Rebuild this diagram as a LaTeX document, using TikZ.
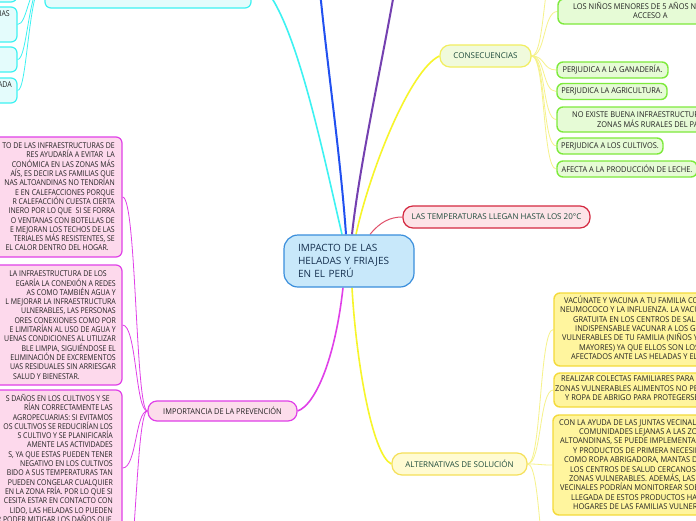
\documentclass[tikz,border=0pt]{standalone}
\usepackage{fontspec}
\setmainfont{Open Sans}
\newfontfamily\cond{Open Sans}[FakeStretch=0.87]
\newfontfamily\condw{Open Sans}[FakeStretch=0.93]
\usetikzlibrary{calc}
\pgfdeclarelayer{bg}
\pgfsetlayers{bg,main}
\definecolor{cenfill}{HTML}{C8E8FA}
\definecolor{cenline}{HTML}{3A8EDC}
\definecolor{centext}{HTML}{15304F}
\definecolor{cyanl}{HTML}{3DF2F2}
\definecolor{cyanfill}{HTML}{E4FCFC}
\definecolor{bluel}{HTML}{2150F0}
\definecolor{purpl}{HTML}{7440B0}
\definecolor{yell}{HTML}{F7F52A}
\definecolor{yellsub}{HTML}{F6F28A}
\definecolor{redl}{HTML}{D42840}
\definecolor{redfill}{HTML}{FDE3E7}
\definecolor{redcon}{HTML}{E0506A}
\definecolor{magl}{HTML}{E040E8}
\definecolor{pinkfill}{HTML}{FDD9EC}
\definecolor{impfill}{HTML}{FCDDEB}
\definecolor{consfill}{HTML}{F0FADC}
\definecolor{consline}{HTML}{F2EE60}
\definecolor{greenl}{HTML}{7EEA3C}
\definecolor{greenfill}{HTML}{E6FBD6}
\definecolor{altfill}{HTML}{FFFBD2}
\definecolor{altline}{HTML}{F5E05A}
\definecolor{ybfill}{HTML}{FFF59E}
\definecolor{ybline}{HTML}{F4DA3A}
\definecolor{headtext}{HTML}{1E4B3C}
\definecolor{bodytext}{HTML}{222222}
\begin{document}
\begin{tikzpicture}[x=1pt,y=-1pt,
  every node/.style={inner sep=0pt},
  basebox/.style={draw, line width=1.2pt, rounded corners=6pt},
  cbox/.style={basebox, draw=cyanl, fill=cyanfill},
  pbox/.style={basebox, draw=magl, fill=pinkfill},
  gbox/.style={basebox, draw=greenl, fill=greenfill, line width=1.4pt, font=\condw\fontsize{8}{9.4}\selectfont, text=bodytext},
  ybox/.style={basebox, draw=ybline, fill=ybfill, line width=1.4pt},
  head/.style={draw, line width=1.2pt, rounded corners=10pt, font=\fontsize{8}{10}\selectfont, text=headtext},
  btext/.style={font=\cond\fontsize{8}{9.3}\selectfont, text=bodytext},
  wtext/.style={font=\condw\fontsize{8}{9.4}\selectfont, text=bodytext},
  mainbr/.style={line width=1.6pt},
  subbr/.style={line width=0.8pt},
]
\useasboundingbox (0,0) rectangle (696,520);
\clip (0,0) rectangle (696,520);
\begin{pgfonlayer}{bg}
\fill[white] (0,0) rectangle (696,520);
\end{pgfonlayer}

% central
\node[draw=cenline, fill=cenfill, line width=1.2pt, rounded corners=14pt,
  minimum width=130pt, minimum height=52pt, text width=102pt, inner xsep=14pt,
  align=left, font=\fontsize{10}{12.8}\selectfont, text=centext] (c) at (349,261)
  {IMPACTO DE LAS\\HELADAS Y FRIAJES\\EN EL PERÚ};

% cyan branch
\node[cbox, minimum width=206pt, minimum height=58pt] (cbig) at (148,-21) {};
\node[cbox, minimum width=97pt, minimum height=32pt] (ca) at (-31.5,-14) {};
\node[cbox, minimum width=97pt, minimum height=35pt] (cb) at (-31.5,24.5) {};
\node[cbox, minimum width=97pt, minimum height=25pt] (cc) at (-31.5,59.5) {};
\node[cbox, minimum width=97pt, minimum height=25pt] (cd) at (-31.5,90.5) {};
\node[btext, anchor=east] (cbt) at (10,14) {IAS};
\node[btext, anchor=east] (cdt) at (12,85) {ADA};

\coordinate (bl) at (318,-30);
\coordinate (pu) at (398,-30);

% headings
\node[head, draw=redl, fill=redfill, minimum width=187pt, minimum height=22pt] (red) at (496.5,217) {LAS TEMPERATURAS LLEGAN HASTA LOS 20°C};
\node[head, draw=consline, fill=consfill, minimum width=91pt, minimum height=22pt] (cons) at (485.5,56) {CONSECUENCIAS};
\node[head, draw=altline, fill=altfill, minimum width=135pt, minimum height=22pt] (alt) at (459.5,464) {ALTERNATIVAS DE SOLUCIÓN};
\node[head, draw=magl, fill=impfill, rounded corners=9pt, minimum width=149pt, minimum height=20pt, font=\condw\fontsize{8}{10}\selectfont, text=bodytext] (imp) at (222.5,411) {IMPORTANCIA DE LA PREVENCIÓN};

% consecuencias children
\coordinate (g0) at (557,-40);
\node[gbox, minimum width=202pt, minimum height=25pt] (g1) at (659,11.5) {};
\node[wtext, anchor=west, align=left] (g1t) at (573,10.5) {LOS NIÑOS MENORES DE 5 AÑOS NO\\\hspace*{60pt}ACCESO A};
\node[gbox, minimum width=111pt, minimum height=16pt] (g2) at (612.5,70) {PERJUDICA A LA GANADERÍA.};
\node[gbox, minimum width=110pt, minimum height=16pt] (g3) at (612,91.5) {PERJUDICA LA AGRICULTURA.};
\node[gbox, minimum width=203pt, minimum height=25pt] (g4) at (658.5,119.5) {};
\node[wtext, anchor=west, align=left] (g4t) at (572,119.5) {NO EXISTE BUENA INFRAESTRUCTURA\\\hspace*{25pt}ZONAS MÁS RURALES DEL PAÍS};
\node[gbox, minimum width=106pt, minimum height=16pt] (g5) at (610,146) {PERJUDICA A LOS CULTIVOS.};
\node[gbox, minimum width=140pt, minimum height=16pt] (g6) at (627,169) {AFECTA A LA PRODUCCIÓN DE LECHE.};

% alternativas children
\node[ybox, minimum width=226pt, minimum height=73pt] (y1) at (667,329.5) {};
\node[wtext, anchor=west, align=left] (y1t) at (560,328.5) {\hspace*{4pt}VACÚNATE Y VACUNA A TU FAMILIA CONTRA EL\\
NEUMOCOCO Y LA INFLUENZA. LA VACUNA ES\\
\hspace*{13pt}GRATUITA EN LOS CENTROS DE SALUD. ES\\
\hspace*{15pt}INDISPENSABLE VACUNAR A LOS GRUPOS MÁS\\
\hspace*{2pt}VULNERABLES DE TU FAMILIA (NIÑOS Y ADULTOS\\
\hspace*{19pt}MAYORES) YA QUE ELLOS SON LOS MÁS\\
\hspace*{11pt}AFECTADOS ANTE LAS HELADAS Y EL FRIAJE.};
\node[ybox, minimum width=226pt, minimum height=34pt] (y2) at (667,390) {};
\node[wtext, anchor=west, align=left] (y2t) at (555,388.5) {\hspace*{6pt}REALIZAR COLECTAS FAMILIARES PARA LLEVAR A\\
ZONAS VULNERABLES ALIMENTOS NO PERECIBLES\\
\hspace*{10pt}Y ROPA DE ABRIGO PARA PROTEGERSE DEL FRÍO.};
\node[ybox, minimum width=227pt, minimum height=100pt] (y3) at (666.5,465) {};
\node[wtext, anchor=west, align=left] (y3t) at (559,464.5) {CON LA AYUDA DE LAS JUNTAS VECINALES\\
\hspace*{20pt}COMUNIDADES LEJANAS A LAS ZONAS\\
\hspace*{1pt}ALTOANDINAS, SE PUEDE IMPLEMENTAR\\
\hspace*{14pt}Y PRODUCTOS DE PRIMERA NECESIDAD\\
\hspace*{5pt}COMO ROPA ABRIGADORA, MANTAS DE\\
\hspace*{11pt}LOS CENTROS DE SALUD CERCANOS A\\
\hspace*{10pt}ZONAS VULNERABLES. ADEMÁS, LAS\\
\hspace*{1pt}VECINALES PODRÍAN MONITOREAR SOBRE\\
\hspace*{12pt}LLEGADA DE ESTOS PRODUCTOS HACIA\\
\hspace*{14pt}HOGARES DE LAS FAMILIAS VULNERABLES};
\coordinate (y4) at (553,590);

% prevention children
\node[pbox, minimum width=202pt, minimum height=120pt] (p1) at (21,197) {};
\node[pbox, minimum width=202pt, minimum height=120pt] (p2) at (21,325) {};
\node[pbox, minimum width=202pt, minimum height=156pt] (p3) at (21,468) {};
\coordinate (p4) at (122,600);
\node[btext, anchor=east, align=right] (p1t) at (115,197) {TO DE LAS INFRAESTRUCTURAS DE\\
RES AYUDARÍA A EVITAR \ LA\hspace*{16pt}\\
CONÓMICA EN LAS ZONAS MÁS\hspace*{9pt}\\
AÍS, ES DECIR LAS FAMILIAS QUE\hspace*{2pt}\\
NAS ALTOANDINAS NO TENDRÍAN\\
E EN CALEFACCIONES PORQUE\hspace*{12pt}\\
R CALEFACCIÓN CUESTA CIERTA\hspace*{8pt}\\
INERO POR LO QUE \ SI SE FORRA\hspace*{4pt}\\
O VENTANAS CON BOTELLAS DE\hspace*{7pt}\\
E MEJORAN LOS TECHOS DE LAS\hspace*{8pt}\\
TERIALES MÁS RESISTENTES, SE\hspace*{7pt}\\
EL CALOR DENTRO DEL HOGAR.\hspace*{6pt}};
\node[btext, anchor=east, align=right] (p2t) at (116,325) {LA INFRAESTRUCTURA DE LOS\hspace*{9pt}\\
EGARÍA LA CONEXIÓN A REDES\hspace*{6pt}\\
AS COMO TAMBIÉN AGUA Y\hspace*{16pt}\\
L MEJORAR LA INFRAESTRUCTURA\\
ULNERABLES, LAS PERSONAS\hspace*{10pt}\\
ORES CONEXIONES COMO POR\hspace*{9pt}\\
E LIMITARÍAN AL USO DE AGUA Y\hspace*{6pt}\\
UENAS CONDICIONES AL UTILIZAR\hspace*{2pt}\\
BLE LIMPIA, SIGUIÉNDOSE EL\hspace*{9pt}\\
ELIMINACIÓN DE EXCREMENTOS\hspace*{6pt}\\
UAS RESIDUALES SIN ARRIESGAR\hspace*{3pt}\\
SALUD Y BIENESTAR.\hspace*{36pt}};
\node[btext, anchor=east, align=right] (p3t) at (113,459) {S DAÑOS EN LOS CULTIVOS Y SE\hspace*{3pt}\\
RÍAN CORRECTAMENTE LAS\hspace*{20pt}\\
AGROPECUARIAS: SI EVITAMOS\hspace*{7pt}\\
OS CULTIVOS SE REDUCIRÍAN LOS\\
S CULTIVO Y SE PLANIFICARÍA\hspace*{10pt}\\
AMENTE LAS ACTIVIDADES\hspace*{23pt}\\
S, YA QUE ESTAS PUEDEN TENER\hspace*{3pt}\\
NEGATIVO EN LOS CULTIVOS\hspace*{16pt}\\
BIDO A SUS TEMPERATURAS TAN\hspace*{5pt}\\
PUEDEN CONGELAR CUALQUIER\hspace*{5pt}\\
EN LA ZONA FRÍA. POR LO QUE SI\\
CESITA ESTAR EN CONTACTO CON\hspace*{1pt}\\
LIDO, LAS HELADAS LO PUEDEN\hspace*{6pt}\\
R PODER MITIGAR LOS DAÑOS QUE\hspace*{1pt}};

% connectors
\begin{pgfonlayer}{bg}
\draw[mainbr, cyanl] ($(c.north)+(-7,0)$) .. controls (321,145) and (290,-10) .. (cbig.east);
\draw[bluel, line width=2pt] ($(c.north)+(-3,0)$) .. controls (340,150) and (325,50) .. (bl);
\draw[purpl, line width=2pt] ($(c.north)+(3,0)$) .. controls (360,160) and (385,50) .. (pu);
\draw[mainbr, yell] ($(c.north)+(7,0)$) .. controls (370,170) and (410,70) .. (cons.west);
\draw[redcon, line width=1pt] ($(c.north)+(21,0)$) .. controls (380,222) and (390,217) .. (red.west);
\draw[mainbr, magl] ($(c.south)+(-6,0)$) .. controls (335,360) and (315,405) .. (imp.east);
\draw[mainbr, yell] ($(c.south)+(3,0)$) .. controls (356,360) and (372,455) .. (alt.west);
\foreach \n in {ca,cb,cc,cd}
  \draw[subbr, cyanl] (\n.east) .. controls +(10,0) and (28,-15) .. (cbig.west);
\draw[subbr, yellsub] (cons.east) .. controls +(14,0) and +(-14,0) .. (g0);
\foreach \n in {g1,g2,g3,g4,g5,g6}
  \draw[subbr, yellsub] (cons.east) .. controls +(14,0) and +(-14,0) .. (\n.west);
\foreach \n in {y1,y2,y3}
  \draw[subbr, yellsub] (alt.east) .. controls +(14,0) and +(-14,0) .. (\n.west);
\draw[subbr, yellsub] (alt.east) .. controls +(14,0) and +(-14,0) .. (y4);
\foreach \n in {p1,p2,p3}
  \draw[subbr, magl] (imp.west) .. controls +(-12,0) and +(14,0) .. (\n.east);
\draw[subbr, magl] (imp.west) .. controls +(-12,0) and +(14,0) .. (p4);
\end{pgfonlayer}
\end{tikzpicture}
\end{document}
